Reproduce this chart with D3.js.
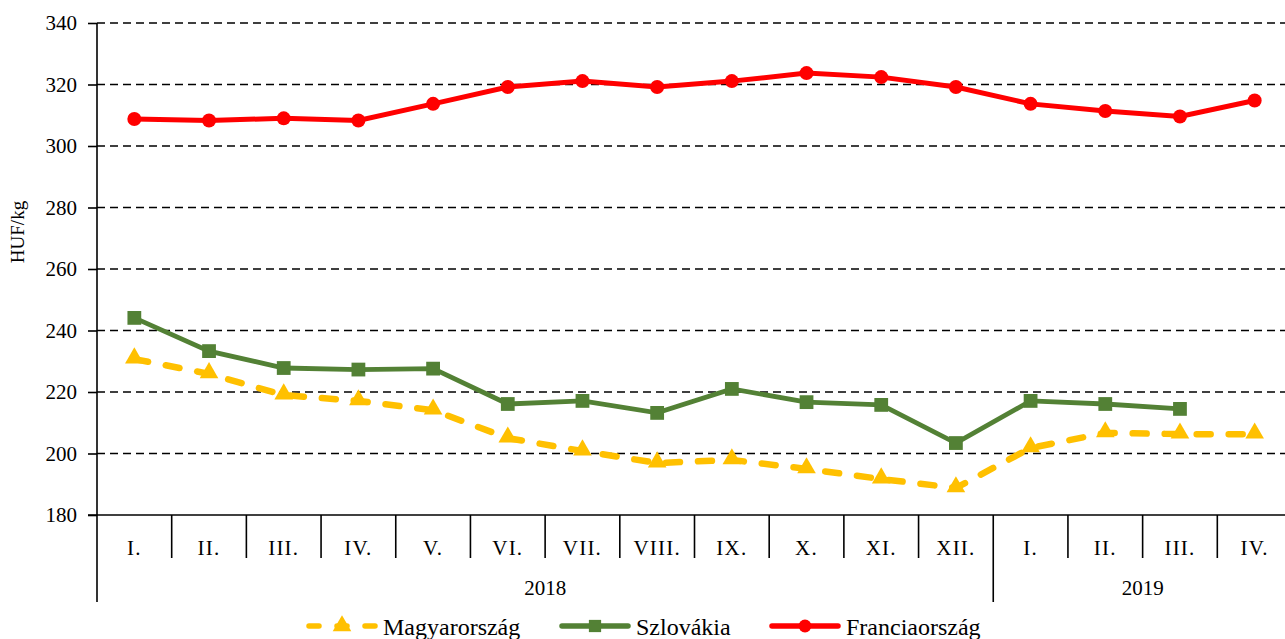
<!DOCTYPE html>
<html>
<head>
<meta charset="utf-8">
<script src="https://cdn.jsdelivr.net/npm/d3@7"></script>
<style>
  body { margin: 0; background: #fff; }
  text { font-family: "Liberation Serif", "Times New Roman", serif; fill: #000; }
</style>
</head>
<body>
<div id="chart"></div>
<script>
// categories
var months = ["I.", "II.", "III.", "IV.", "V.", "VI.", "VII.", "VIII.", "IX.", "X.", "XI.", "XII.", "I.", "II.", "III.", "IV."];
var years = ["2018", "2019"];
var yearCounts = [12, 4];
var yTicks = [180, 200, 220, 240, 260, 280, 300, 320, 340];

// series values (HUF/kg)
var magyar = [230.7, 225.9, 219.0, 217.1, 214.1, 205.0, 200.8, 196.9, 197.9, 195.0, 191.7, 188.8, 201.8, 206.7, 206.3, 206.3];
var szlovak = [244.1, 233.3, 227.8, 227.3, 227.6, 216.1, 217.1, 213.2, 221.0, 216.7, 215.8, 203.4, 217.1, 216.1, 214.5, null];
var francia = [308.8, 308.3, 309.0, 308.3, 313.7, 319.2, 321.1, 319.2, 321.1, 323.7, 322.4, 319.2, 313.7, 311.4, 309.6, 314.8];

var W = 1285, H = 639;
var plotLeft = 97, plotRight = 1292, plotTop = 23, plotBottom = 515;

var svg = d3.select("#chart").append("svg")
    .attr("width", W)
    .attr("height", H);

var x = d3.scaleBand()
    .domain(d3.range(months.length))
    .range([plotLeft, plotRight]);

var y = d3.scaleLinear()
    .domain([180, 340])
    .range([plotBottom, plotTop]);

// dashed gridlines
svg.append("g")
    .selectAll("line")
    .data(yTicks.filter(function (d) { return d > 180; }))
    .enter()
    .append("line")
    .attr("x1", plotLeft).attr("x2", plotRight)
    .attr("y1", function (d) { return y(d); })
    .attr("y2", function (d) { return y(d); })
    .attr("stroke", "#000")
    .attr("stroke-width", 1.6)
    .attr("stroke-dasharray", "8 5");

// y axis
var yAxis = svg.append("g")
    .attr("transform", "translate(" + plotLeft + ",0)")
    .call(d3.axisLeft(y).tickValues(yTicks).tickSize(9).tickPadding(11));
yAxis.select(".domain").remove();
yAxis.selectAll(".tick line").attr("stroke", "#000").attr("stroke-width", 1.6);
yAxis.selectAll("text")
    .style("font-family", "Liberation Serif, serif")
    .style("font-size", "21px")
    .attr("fill", "#000");

svg.append("line")
    .attr("x1", plotLeft).attr("x2", plotLeft)
    .attr("y1", plotTop).attr("y2", 602)
    .attr("stroke", "#000").attr("stroke-width", 1.6);

// x axis line
svg.append("line")
    .attr("x1", plotLeft - 9).attr("x2", plotRight)
    .attr("y1", plotBottom).attr("y2", plotBottom)
    .attr("stroke", "#000").attr("stroke-width", 1.6);

// category separators
svg.append("g")
    .selectAll("line")
    .data(d3.range(1, months.length))
    .enter()
    .append("line")
    .attr("x1", function (i) { return x(i); })
    .attr("x2", function (i) { return x(i); })
    .attr("y1", plotBottom)
    .attr("y2", function (i) { return i === yearCounts[0] ? 602 : 558; })
    .attr("stroke", "#000").attr("stroke-width", 1.6);

// month labels
svg.append("g")
    .selectAll("text")
    .data(months)
    .enter()
    .append("text")
    .attr("x", function (d, i) { return x(i) + x.bandwidth() / 2; })
    .attr("y", 555)
    .attr("text-anchor", "middle")
    .style("font-size", "21px")
    .style("letter-spacing", "1.2px")
    .text(function (d) { return d; });

// year labels
var start = 0;
years.forEach(function (yr, k) {
    var a = x(start), b = start + yearCounts[k] >= months.length ? plotRight : x(start + yearCounts[k]);
    svg.append("text")
        .attr("x", (a + b) / 2)
        .attr("y", 595)
        .attr("text-anchor", "middle")
        .style("font-size", "21px")
        .text(yr);
    start += yearCounts[k];
});

// y axis title
svg.append("text")
    .attr("transform", "translate(24,232) rotate(-90)")
    .attr("text-anchor", "middle")
    .style("font-size", "19px")
    .text("HUF/kg");

function cx(d, i) { return x(i) + x.bandwidth() / 2; }

var line = d3.line()
    .defined(function (d) { return d !== null; })
    .x(cx)
    .y(function (d) { return y(d); });

// Magyarország
svg.append("path")
    .datum(magyar)
    .attr("d", line)
    .attr("fill", "none")
    .attr("stroke", "#FFC000")
    .attr("stroke-width", 6.5)
    .attr("stroke-linecap", "round")
    .attr("stroke-dasharray", "14 18");
svg.append("g")
    .selectAll("path")
    .data(magyar)
    .enter()
    .append("path")
    .attr("d", d3.symbol().type(d3.symbolTriangle).size(150))
    .attr("transform", function (d, i) { return "translate(" + cx(d, i) + "," + (y(d) - 1) + ")"; })
    .attr("fill", "#FFC000");

// Szlovákia
svg.append("path")
    .datum(szlovak)
    .attr("d", line)
    .attr("fill", "none")
    .attr("stroke", "#538135")
    .attr("stroke-width", 4.8);
svg.append("g")
    .selectAll("path")
    .data(szlovak.map(function (d, i) { return {v: d, i: i}; }).filter(function (d) { return d.v !== null; }))
    .enter()
    .append("path")
    .attr("d", d3.symbol().type(d3.symbolSquare).size(190))
    .attr("transform", function (d) { return "translate(" + cx(d.v, d.i) + "," + y(d.v) + ")"; })
    .attr("fill", "#538135");

// Franciaország
svg.append("path")
    .datum(francia)
    .attr("d", line)
    .attr("fill", "none")
    .attr("stroke", "#FF0000")
    .attr("stroke-width", 5);
svg.append("g")
    .selectAll("circle")
    .data(francia)
    .enter()
    .append("circle")
    .attr("cx", cx)
    .attr("cy", function (d) { return y(d); })
    .attr("r", 7)
    .attr("fill", "#FF0000");

// legend
var legendItems = [
    {name: "Magyarország", color: "#FFC000", x: 309, dash: "10 18", sym: d3.symbolTriangle},
    {name: "Szlovákia", color: "#538135", x: 562, dash: null, sym: d3.symbolSquare},
    {name: "Franciaország", color: "#FF0000", x: 772, dash: null, sym: d3.symbolCircle}
];
var ly = 626;
var lg = svg.append("g").selectAll("g")
    .data(legendItems)
    .enter()
    .append("g")
    .attr("transform", function (d) { return "translate(" + d.x + "," + ly + ")"; });
lg.append("line")
    .attr("x1", 0).attr("x2", 66)
    .attr("stroke", function (d) { return d.color; })
    .attr("stroke-width", 5.5)
    .attr("stroke-linecap", "round")
    .attr("stroke-dasharray", function (d) { return d.dash; });
lg.append("path")
    .attr("d", function (d) { return d3.symbol().type(d.sym).size(d.sym === d3.symbolCircle ? 130 : 150)(); })
    .attr("transform", "translate(33,0)")
    .attr("fill", function (d) { return d.color; });
lg.append("text")
    .attr("x", 74)
    .attr("y", 9)
    .style("font-size", "24px")
    .text(function (d) { return d.name; });
</script>
</body>
</html>
